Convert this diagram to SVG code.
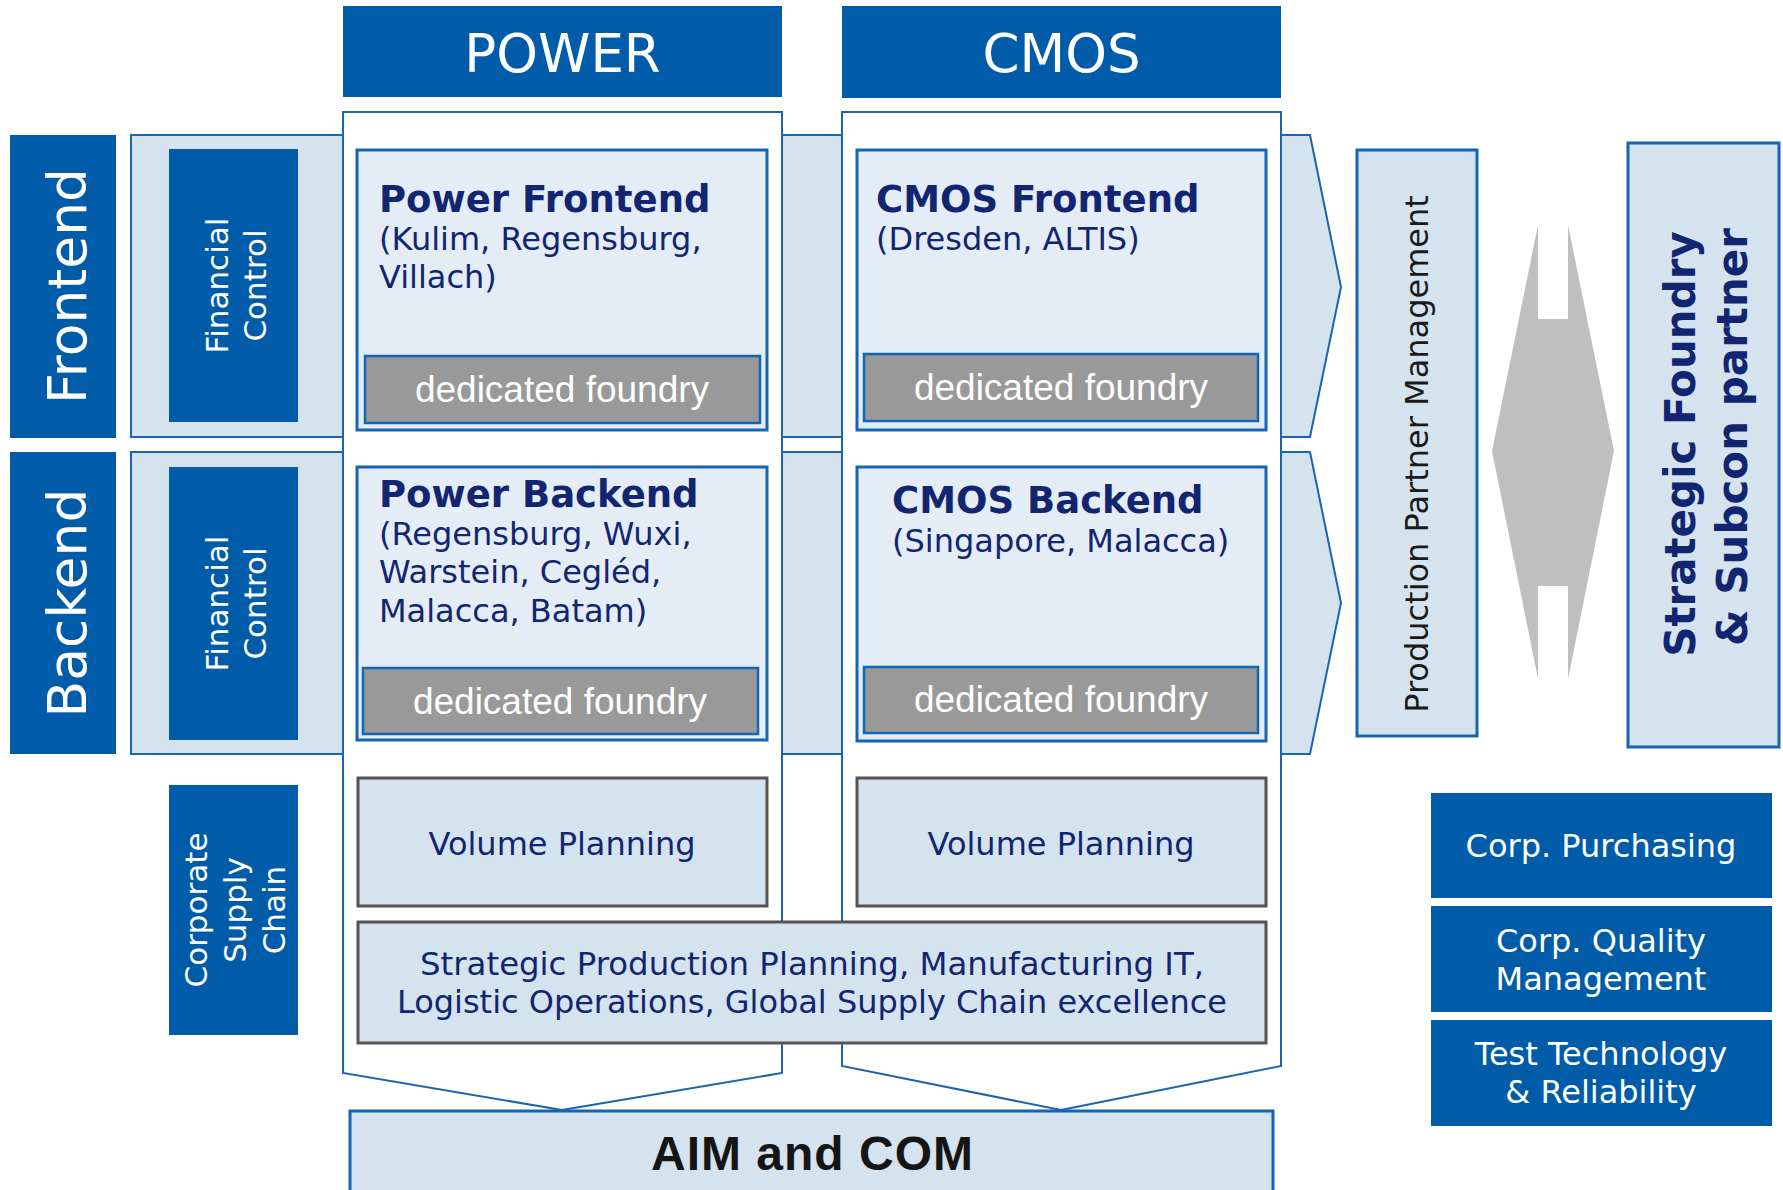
<svg xmlns="http://www.w3.org/2000/svg" width="1783" height="1190" viewBox="0 0 1783 1190">
  <style>
    .v { font-family: "DejaVu Sans", Verdana, sans-serif; }
    .a { font-family: "Liberation Sans", Arial, sans-serif; }
    .blue { fill: #005ca8; }
    .band { fill: #d5e3ef; stroke: #1a64b0; stroke-width: 2; }
    .col { fill: #ffffff; stroke: #1a64b0; stroke-width: 2; }
    .site { fill: #e4edf6; stroke: #1565b5; stroke-width: 3; }
    .foundry { fill: #999999; stroke: #1565b5; stroke-width: 2.5; }
    .plan { fill: #d5e3ef; stroke: #555555; stroke-width: 3; }
    .side { fill: #d5e3ef; stroke: #1565b5; stroke-width: 3; }
    .wt { fill: #ffffff; }
    .nv { fill: #112570; }
    .ttl { font-size: 37px; font-weight: bold; }
    .ft { fill: #ffffff; font-size: 37px; text-anchor: middle; }
  </style>

  <!-- row bands with arrow heads (behind the columns) -->
  <g id="frontend-band">
    <polygon class="band" points="131,135 1310,135 1341,287 1310,437 131,437"/>
  </g>
  <g id="backend-band">
    <polygon class="band" points="131,452 1310,452 1341,603 1310,754 131,754"/>
  </g>

  <!-- row labels -->
  <g id="frontend-label">
    <rect class="blue" x="10" y="135" width="106" height="303"/>
    <text class="v wt" font-size="53.5" text-anchor="middle" transform="translate(86,286) rotate(-90)">Frontend</text>
  </g>
  <g id="backend-label">
    <rect class="blue" x="10" y="452" width="106" height="302"/>
    <text class="v wt" font-size="53.5" text-anchor="middle" transform="translate(86,603) rotate(-90)">Backend</text>
  </g>

  <g id="financial-control-fe">
    <rect class="blue" x="169" y="149" width="129" height="273"/>
    <text class="v wt" font-size="31" text-anchor="middle" transform="translate(228,285.5) rotate(-90)">Financial</text>
    <text class="v wt" font-size="31" text-anchor="middle" transform="translate(266,285.5) rotate(-90)">Control</text>
  </g>
  <g id="financial-control-be">
    <rect class="blue" x="169" y="467" width="129" height="273"/>
    <text class="v wt" font-size="31" text-anchor="middle" transform="translate(228,603.5) rotate(-90)">Financial</text>
    <text class="v wt" font-size="31" text-anchor="middle" transform="translate(266,603.5) rotate(-90)">Control</text>
  </g>
  <g id="corporate-supply-chain">
    <rect class="blue" x="169" y="785" width="129" height="250"/>
    <text class="v wt" font-size="31" text-anchor="middle" transform="translate(207,910) rotate(-90)">Corporate</text>
    <text class="v wt" font-size="31" text-anchor="middle" transform="translate(246,910) rotate(-90)">Supply</text>
    <text class="v wt" font-size="31" text-anchor="middle" transform="translate(285,910) rotate(-90)">Chain</text>
  </g>

  <!-- column headers -->
  <g id="power-header">
    <rect class="blue" x="343" y="6" width="439" height="91"/>
    <text class="v wt" font-size="53" text-anchor="middle" x="562.5" y="72">POWER</text>
  </g>
  <g id="cmos-header">
    <rect class="blue" x="842" y="6" width="439" height="92"/>
    <text class="v wt" font-size="53" text-anchor="middle" x="1061.5" y="72">CMOS</text>
  </g>

  <!-- columns with chevron bottoms -->
  <g id="power-column">
    <polygon class="col" points="343,112 782,112 782,1073 562,1110 343,1073"/>
  </g>
  <g id="cmos-column">
    <polygon class="col" points="842,112 1281,112 1281,1066 1061,1110 842,1066"/>
  </g>

  <!-- site boxes -->
  <g id="power-frontend">
    <rect class="site" x="357" y="150" width="410" height="280"/>
    <text class="v nv ttl" x="379" y="212">Power Frontend</text>
    <text class="v nv" font-size="32" x="379" y="250">(Kulim, Regensburg,</text>
    <text class="v nv" font-size="32" x="379" y="288">Villach)</text>
    <rect class="foundry" x="365" y="356" width="395" height="67"/>
    <text class="a ft" x="562" y="402">dedicated foundry</text>
  </g>
  <g id="cmos-frontend">
    <rect class="site" x="857" y="150" width="409" height="280"/>
    <text class="v nv ttl" x="876" y="212">CMOS Frontend</text>
    <text class="v nv" font-size="32" x="876" y="250">(Dresden, ALTIS)</text>
    <rect class="foundry" x="864" y="354" width="394" height="67"/>
    <text class="a ft" x="1061" y="400">dedicated foundry</text>
  </g>
  <g id="power-backend">
    <rect class="site" x="357" y="467" width="410" height="273"/>
    <text class="v nv ttl" x="379" y="507">Power Backend</text>
    <text class="v nv" font-size="32" x="379" y="545">(Regensburg, Wuxi,</text>
    <text class="v nv" font-size="32" x="379" y="583">Warstein, Cegléd,</text>
    <text class="v nv" font-size="32" x="379" y="622">Malacca, Batam)</text>
    <rect class="foundry" x="363" y="668" width="395" height="66"/>
    <text class="a ft" x="560" y="714">dedicated foundry</text>
  </g>
  <g id="cmos-backend">
    <rect class="site" x="857" y="467" width="409" height="274"/>
    <text class="v nv ttl" x="892" y="513">CMOS Backend</text>
    <text class="v nv" font-size="32" x="892" y="552">(Singapore, Malacca)</text>
    <rect class="foundry" x="864" y="667" width="394" height="66"/>
    <text class="a ft" x="1061" y="712">dedicated foundry</text>
  </g>

  <!-- planning boxes -->
  <g id="power-volume-planning">
    <rect class="plan" x="358" y="778" width="409" height="128"/>
    <text class="v nv" font-size="32" text-anchor="middle" x="562" y="855">Volume Planning</text>
  </g>
  <g id="cmos-volume-planning">
    <rect class="plan" x="857" y="778" width="409" height="128"/>
    <text class="v nv" font-size="32" text-anchor="middle" x="1061" y="855">Volume Planning</text>
  </g>
  <g id="strategic-planning">
    <rect class="plan" x="358" y="922" width="908" height="121"/>
    <text class="v nv" font-size="32" text-anchor="middle" x="812" y="975" textLength="784" lengthAdjust="spacingAndGlyphs">Strategic Production Planning, Manufacturing IT,</text>
    <text class="v nv" font-size="32" text-anchor="middle" x="812" y="1013" textLength="830" lengthAdjust="spacingAndGlyphs">Logistic Operations, Global Supply Chain excellence</text>
  </g>

  <g id="aim-com">
    <rect x="350" y="1111" width="923" height="100" fill="#d5e3ef" stroke="#1565b5" stroke-width="3"/>
    <text class="a" font-size="48" font-weight="bold" fill="#151515" text-anchor="middle" x="812" y="1170" textLength="322" lengthAdjust="spacing">AIM and COM</text>
  </g>

  <!-- partner side -->
  <g id="production-partner-management">
    <rect class="side" x="1357" y="150" width="120" height="586"/>
    <text class="v" font-size="32" fill="#1a1a1a" text-anchor="middle" transform="translate(1428,454) rotate(-90)">Production Partner Management</text>
  </g>
  <g id="exchange-arrow">
    <polygon fill="#bfbfbf" points="1538,225 1538,319 1568,319 1568,225 1614,451 1568,679 1568,586 1538,586 1538,679 1492,451"/>
  </g>
  <g id="strategic-foundry">
    <rect class="side" x="1628" y="143" width="151" height="604"/>
    <text class="v nv" font-size="42" font-weight="bold" text-anchor="middle" transform="translate(1695,444) rotate(-90)">Strategic Foundry</text>
    <text class="v nv" font-size="42" font-weight="bold" text-anchor="middle" transform="translate(1747,437) rotate(-90)">&amp; Subcon partner</text>
  </g>

  <!-- corporate functions -->
  <g id="corp-purchasing">
    <rect class="blue" x="1431" y="793" width="341" height="105"/>
    <text class="v wt" font-size="32" text-anchor="middle" x="1601" y="857">Corp. Purchasing</text>
  </g>
  <g id="corp-quality">
    <rect class="blue" x="1431" y="906" width="341" height="106"/>
    <text class="v wt" font-size="32" text-anchor="middle" x="1601" y="952">Corp. Quality</text>
    <text class="v wt" font-size="32" text-anchor="middle" x="1601" y="990">Management</text>
  </g>
  <g id="test-technology">
    <rect class="blue" x="1431" y="1020" width="341" height="106"/>
    <text class="v wt" font-size="32" text-anchor="middle" x="1601" y="1065">Test Technology</text>
    <text class="v wt" font-size="32" text-anchor="middle" x="1601" y="1103">&amp; Reliability</text>
  </g>
</svg>
